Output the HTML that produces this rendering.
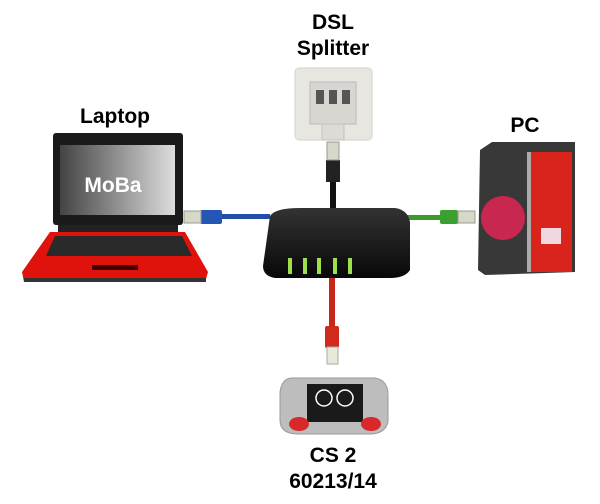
<!DOCTYPE html>
<html><head><style>
body{margin:0;width:600px;height:504px;background:#fff;position:relative;overflow:hidden;font-family:"Liberation Sans",sans-serif}
.t{position:absolute;font-weight:bold;font-size:21px;color:#000;text-align:center;line-height:26px}
</style></head><body>
<div class="t" style="left:283px;top:10px;width:100px">DSL<br>Splitter</div>
<div class="t" style="left:65px;top:104px;width:100px">Laptop</div>
<div class="t" style="left:495px;top:113px;width:60px">PC</div>
<div class="t" style="left:263px;top:443px;width:140px">CS 2<br>60213/14</div>
<svg width="600" height="504" style="position:absolute;left:0;top:0">
<defs>
<linearGradient id="scr" x1="0" y1="0" x2="1" y2="0"><stop offset="0" stop-color="#444"/><stop offset="1" stop-color="#ddd"/></linearGradient>
<linearGradient id="rt" x1="0" y1="0" x2="0" y2="1"><stop offset="0" stop-color="#333"/><stop offset="1" stop-color="#080808"/></linearGradient>
</defs>
<!-- splitter -->
<rect x="295" y="68" width="77" height="72" rx="4" fill="#e8e6e0" stroke="#d4d2cc"/>
<rect x="310" y="82" width="46" height="42" fill="#d8d6d0" stroke="#bbb"/>
<rect x="316" y="90" width="8" height="14" fill="#555"/><rect x="329" y="90" width="8" height="14" fill="#555"/><rect x="342" y="90" width="8" height="14" fill="#555"/>
<rect x="322" y="124" width="22" height="16" fill="#dddbd5" stroke="#c4c2bc"/>
<!-- black cable -->
<rect x="330" y="160" width="6" height="52" fill="#111"/>
<rect x="326" y="160" width="14" height="22" fill="#222"/>
<rect x="327" y="142" width="12" height="18" fill="#d8d8c8" stroke="#999"/>
<!-- blue cable -->
<rect x="200" y="214" width="70" height="5" fill="#1f4fa8"/>
<rect x="200" y="210" width="22" height="14" rx="2" fill="#2456b5"/>
<rect x="184" y="211" width="17" height="12" fill="#d8d8c8" stroke="#999"/>
<!-- green cable -->
<rect x="395" y="215" width="60" height="5" fill="#3a9a2a"/>
<rect x="440" y="210" width="18" height="14" rx="2" fill="#3aa030"/>
<rect x="458" y="211" width="17" height="12" fill="#d8d8c8" stroke="#999"/>
<!-- red cable -->
<rect x="329" y="278" width="6" height="60" fill="#c8261a"/>
<rect x="325" y="326" width="14" height="22" rx="2" fill="#cf2a1c"/>
<rect x="327" y="347" width="11" height="17" fill="#e8e8d8" stroke="#aaa"/>
<!-- router -->
<path d="M270 216 Q275 208 300 208 L395 208 Q408 210 410 222 L410 270 Q405 278 390 278 L275 278 Q263 276 263 266 Z" fill="url(#rt)"/>
<g fill="#9fe04a"><rect x="288" y="258" width="4" height="16"/><rect x="303" y="258" width="4" height="16"/><rect x="317" y="258" width="4" height="16"/><rect x="333" y="258" width="4" height="16"/><rect x="348" y="258" width="4" height="16"/></g>
<!-- laptop -->
<rect x="53" y="133" width="130" height="92" rx="3" fill="#1a1a1a"/>
<rect x="60" y="145" width="115" height="70" fill="url(#scr)"/>
<text x="113" y="192" font-family="Liberation Sans" font-weight="bold" font-size="21" fill="#fff" text-anchor="middle">MoBa</text>
<rect x="58" y="225" width="120" height="8" fill="#222"/>
<path d="M50 232 L185 232 L208 272 L205 282 L24 282 L22 272 Z" fill="#e0120c"/>
<path d="M55 236 L182 236 L192 256 L46 256 Z" fill="#2a2a2a"/>
<rect x="92" y="265" width="46" height="5" fill="#400"/>
<rect x="24" y="278" width="182" height="4" fill="#333"/>
<!-- PC -->
<path d="M480 150 L492 142 L575 142 L575 272 L485 275 L478 270 Z" fill="#383838"/>
<rect x="530" y="152" width="42" height="120" fill="#d8241a"/>
<rect x="527" y="152" width="4" height="120" fill="#aaa"/>
<circle cx="503" cy="218" r="22" fill="#c82850"/>
<rect x="541" y="228" width="20" height="16" fill="#f0d8e0"/>
<!-- CS2 -->
<path d="M292 378 L375 378 Q388 380 388 395 L388 422 Q385 434 370 434 L298 434 Q280 434 280 420 L280 392 Q282 378 292 378 Z" fill="#bdbdbd" stroke="#999"/>
<rect x="307" y="384" width="56" height="38" fill="#1a1a1a"/>
<circle cx="324" cy="398" r="8" fill="none" stroke="#fff" stroke-width="1.5"/>
<circle cx="345" cy="398" r="8" fill="none" stroke="#fff" stroke-width="1.5"/>
<ellipse cx="299" cy="424" rx="10" ry="7" fill="#d8282a"/>
<ellipse cx="371" cy="424" rx="10" ry="7" fill="#d8282a"/>
</svg>
</body></html>
